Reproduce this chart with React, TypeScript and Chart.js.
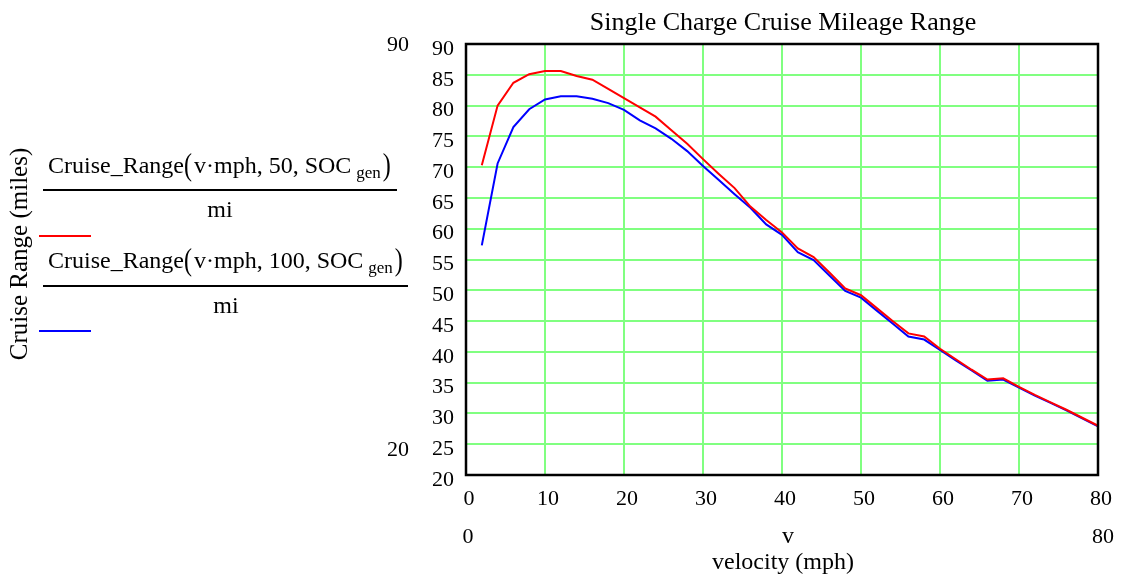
import React, { useEffect, useRef } from "react";
import { Chart, registerables } from "chart.js";

Chart.register(...registerables);

const velocity = [2, 4, 6, 8, 10, 12, 14, 16, 18, 20, 22, 24, 26, 28, 30, 32, 34, 36, 38, 40, 42, 44, 46, 48, 50, 52, 54, 56, 58, 60, 62, 64, 66, 68, 70, 72, 74, 76, 78, 80];
const range50 = [70.3, 80.0, 83.7, 85.1, 85.6, 85.6, 84.8, 84.2, 82.7, 81.2, 79.7, 78.2, 76.0, 73.8, 71.3, 68.9, 66.6, 63.6, 61.4, 59.4, 56.8, 55.4, 52.9, 50.3, 49.2, 47.1, 45.0, 43.0, 42.5, 40.5, 38.8, 37.1, 35.5, 35.7, 34.3, 33.0, 31.8, 30.6, 29.3, 28.0];
const range100 = [57.3, 70.6, 76.5, 79.4, 81.0, 81.5, 81.5, 81.1, 80.4, 79.3, 77.6, 76.3, 74.6, 72.6, 70.2, 67.9, 65.6, 63.4, 60.7, 59.0, 56.2, 54.9, 52.4, 49.9, 48.8, 46.7, 44.6, 42.5, 42.0, 40.3, 38.6, 37.0, 35.3, 35.5, 34.2, 32.9, 31.7, 30.5, 29.2, 27.9];

const titleText = "Single Charge Cruise Mileage Range";
const yTitle = "Cruise Range (miles)";
const xTitle = "velocity (mph)";
const xName = "v";
const legendArgs = ["50", "100"];
const SERIF = '"Liberation Serif", "Times New Roman", serif';

function drawExpr(ctx: CanvasRenderingContext2D, x0: number, baseY: number, arg: string) {
  ctx.textAlign = "left";
  ctx.textBaseline = "alphabetic";
  ctx.font = `24px ${SERIF}`;
  let x = x0;
  ctx.fillText("Cruise_Range", x, baseY);
  x += ctx.measureText("Cruise_Range").width;
  ctx.save();
  ctx.translate(x, baseY + 2);
  ctx.scale(1, 1.32);
  ctx.fillText("(", 0, 0);
  ctx.restore();
  x += ctx.measureText("(").width + 2;
  const mid = "v\u00b7mph, " + arg + ", SOC";
  ctx.fillText(mid, x, baseY);
  x += ctx.measureText(mid).width + 5;
  ctx.font = `17px ${SERIF}`;
  ctx.fillText("gen", x, baseY + 5);
  x += ctx.measureText("gen").width + 2;
  ctx.font = `24px ${SERIF}`;
  ctx.save();
  ctx.translate(x, baseY + 2);
  ctx.scale(1, 1.32);
  ctx.fillText(")", 0, 0);
  ctx.restore();
}

const textPlugin = {
  id: "mathcadText",
  afterDraw(chart: any) {
    const ctx: CanvasRenderingContext2D = chart.ctx;
    const a = chart.chartArea;
    ctx.save();
    // frame
    ctx.strokeStyle = "#000";
    ctx.lineWidth = 2.5;
    ctx.strokeRect(a.left, a.top, a.right - a.left, a.bottom - a.top);
    ctx.fillStyle = "#000";
    // title
    ctx.font = `26px ${SERIF}`;
    ctx.textAlign = "center";
    ctx.textBaseline = "alphabetic";
    ctx.fillText(titleText, (a.left + a.right) / 2 + 1, 30);
    ctx.textBaseline = "middle";
    // limits
    ctx.font = `22px ${SERIF}`;
    ctx.fillText("90", 398, 45);
    ctx.fillText("20", 398, 450);
    ctx.fillText("0", a.left + 2, 537);
    ctx.fillText("80", 1103, 537);
    ctx.font = `24px ${SERIF}`;
    ctx.fillText(xName, 788, 537);
    ctx.fillText(xTitle, 783, 563);
    // y title
    ctx.save();
    ctx.translate(20, 254);
    ctx.rotate(-Math.PI / 2);
    ctx.font = `25px ${SERIF}`;
    ctx.fillText(yTitle, 0, 0);
    ctx.restore();
    // legend expressions
    drawExpr(ctx, 48, 173, legendArgs[0]);
    drawExpr(ctx, 48, 268, legendArgs[1]);
    ctx.lineWidth = 2;
    ctx.strokeStyle = "#000";
    ctx.beginPath();
    ctx.moveTo(43, 190);
    ctx.lineTo(397, 190);
    ctx.moveTo(43, 286);
    ctx.lineTo(408, 286);
    ctx.stroke();
    ctx.font = `24px ${SERIF}`;
    ctx.textAlign = "center";
    ctx.textBaseline = "alphabetic";
    ctx.fillText("mi", 220, 217);
    ctx.fillText("mi", 226, 313);
    ctx.strokeStyle = "#ff0000";
    ctx.beginPath();
    ctx.moveTo(39, 236);
    ctx.lineTo(91, 236);
    ctx.stroke();
    ctx.strokeStyle = "#0000ff";
    ctx.beginPath();
    ctx.moveTo(39, 331);
    ctx.lineTo(91, 331);
    ctx.stroke();
    ctx.restore();
  },
};

export default function App() {
  const ref = useRef<HTMLCanvasElement | null>(null);
  useEffect(() => {
    if (!ref.current) return;
    const chart = new Chart(ref.current, {
      type: "line",
      data: {
        datasets: [
          {
            label: "Cruise_Range(v·mph, 50, SOC gen)/mi",
            data: velocity.map((v, i) => ({ x: v, y: range50[i] })),
            borderColor: "#ff0000",
            backgroundColor: "#ff0000",
            borderWidth: 2,
            pointRadius: 0,
            tension: 0,
          },
          {
            label: "Cruise_Range(v·mph, 100, SOC gen)/mi",
            data: velocity.map((v, i) => ({ x: v, y: range100[i] })),
            borderColor: "#0000ff",
            backgroundColor: "#0000ff",
            borderWidth: 2,
            pointRadius: 0,
            tension: 0,
          },
        ],
      },
      options: {
        animation: false,
        responsive: true,
        maintainAspectRatio: false,
        layout: { padding: { left: 0, top: 44, right: 24, bottom: 0 } },
        plugins: { legend: { display: false }, title: { display: false }, tooltip: { enabled: false } },
        scales: {
          x: {
            type: "linear",
            min: 0,
            max: 80,
            afterFit: (s: any) => { s.height = 103; },
            ticks: { stepSize: 10, color: "#000", font: { family: SERIF, size: 22 }, padding: 11, labelOffset: 3, maxRotation: 0 },
            grid: { color: "rgb(128,255,128)", lineWidth: 2, drawTicks: false },
            border: { display: false },
          },
          y: {
            type: "linear",
            min: 20,
            max: 90,
            afterFit: (s: any) => { s.width = 466; },
            ticks: { stepSize: 5, color: "#000", font: { family: SERIF, size: 22 }, padding: 12, labelOffset: 5 },
            grid: { color: "rgb(128,255,128)", lineWidth: 2, drawTicks: false },
            border: { display: false },
          },
        },
      },
      plugins: [textPlugin],
    });
    return () => chart.destroy();
  }, []);
  return (
    <div style={{ position: "absolute", left: 0, top: 0, width: 1122, height: 578, background: "#fff" }}>
      <canvas ref={ref} />
    </div>
  );
}
